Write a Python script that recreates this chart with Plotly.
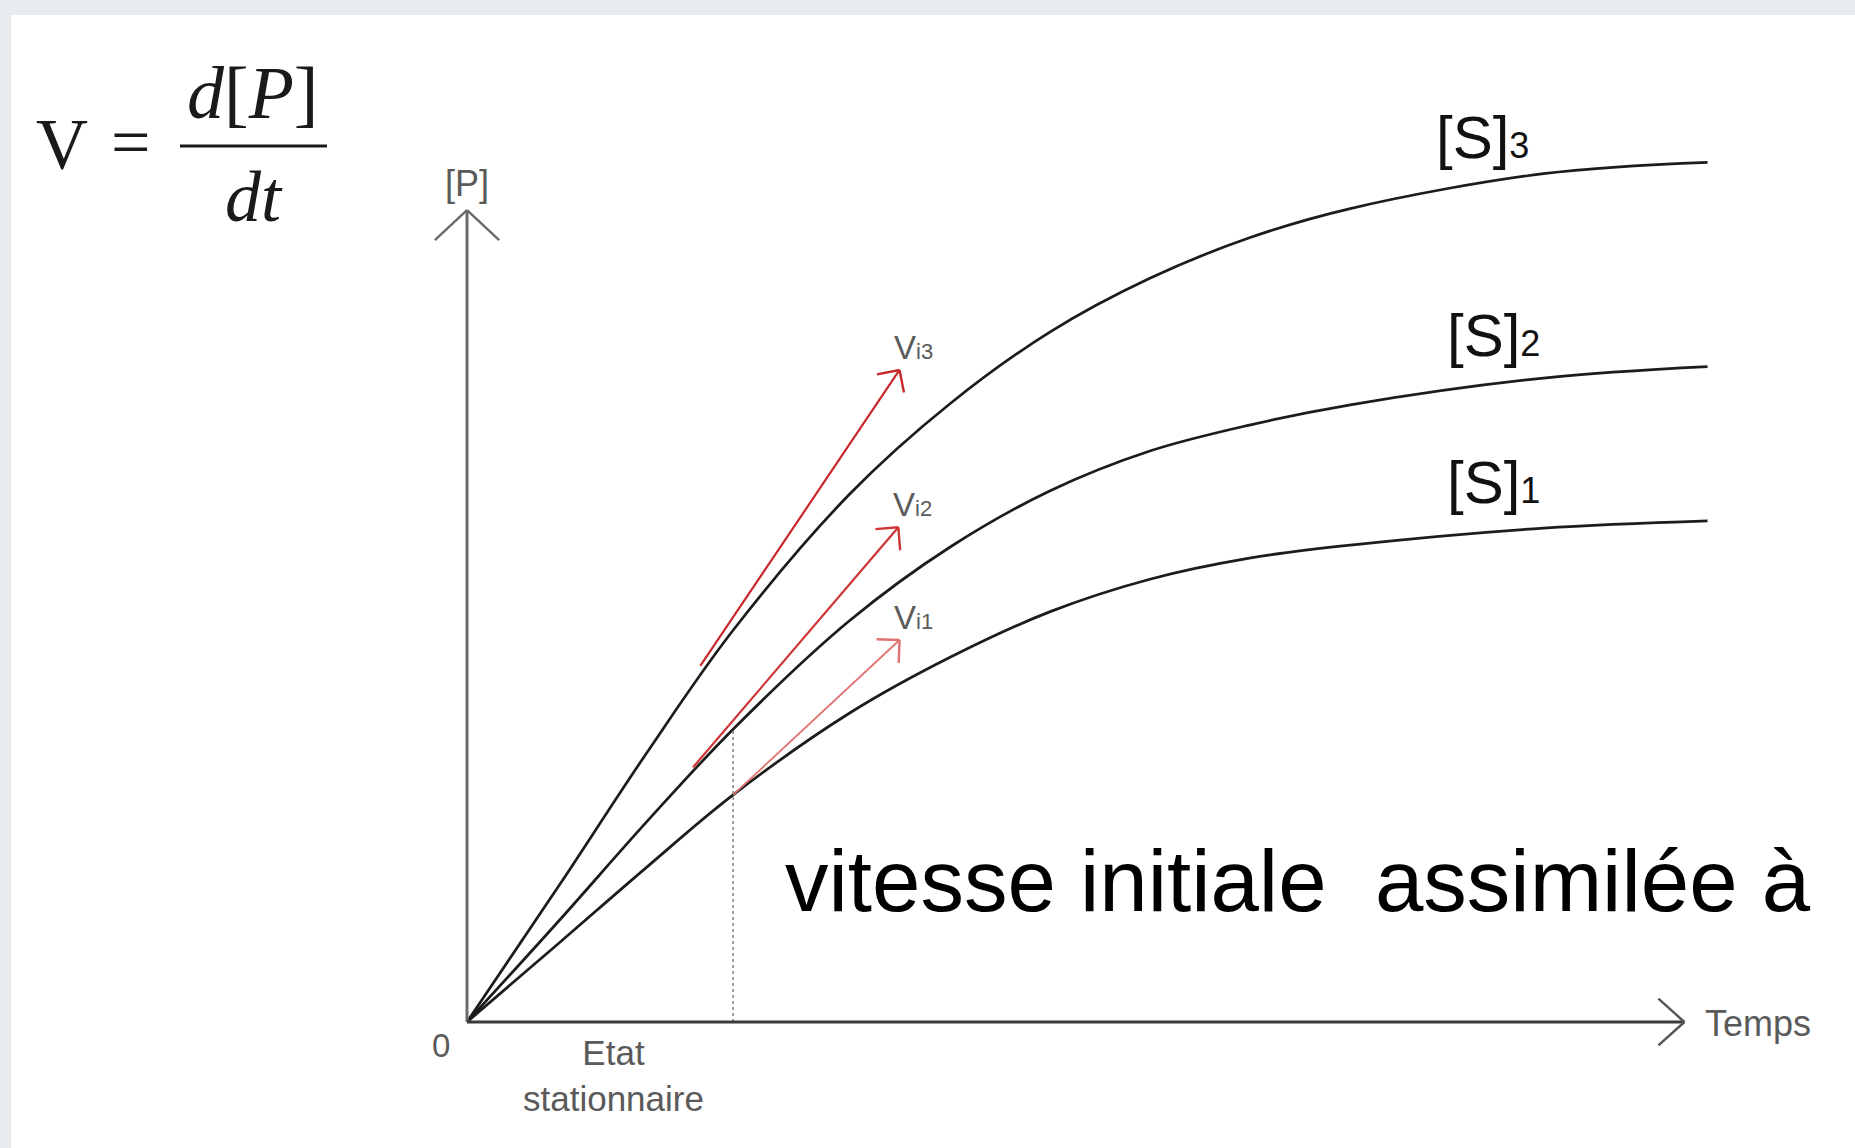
import math
import plotly.graph_objects as go

# Canvas and placement of the kinetic plot inside it
W, H = 1855, 1148
ORIGIN_PX = (467, 1022)      # pixel position of (t=0, [P]=0)
PX_PER_T = 121.5             # pixels per time unit
PX_PER_P = 81.1              # pixels per [P] unit

# Product formation curves, one per substrate concentration
temps = [0, 0.77, 1.48, 2.19, 3.15, 3.98, 4.80, 5.62, 6.44, 7.27, 8.86, 10.21]
p_s1 = [0, 0.99, 1.91, 2.80, 3.81, 4.50, 5.06, 5.46, 5.72, 5.88, 6.09, 6.18]
p_s2 = [0, 1.27, 2.47, 3.61, 4.95, 5.86, 6.55, 7.04, 7.36, 7.61, 7.94, 8.08]
p_s3 = [0, 1.71, 3.32, 4.83, 6.51, 7.63, 8.51, 9.17, 9.67, 10.03, 10.46, 10.60]
subscripts = ["1", "2", "3"]

# Initial-rate tangents Vi1, Vi2, Vi3 (tail -> head)
vi_tail_t = [2.19, 1.86, 1.92]
vi_tail_p = [2.80, 3.14, 4.39]
vi_head_t = [3.56, 3.55, 3.56]
vi_head_p = [4.71, 6.10, 8.04]
vi_colors = ["#e27272", "#cf3434", "#c9282c"]

# End of the drawn axes
T_AXIS_END = 10.02
P_AXIS_END = 10.01
STEADY_STATE_IDX = 3   # sample where the steady-state marker is drawn

x_range = [-ORIGIN_PX[0] / PX_PER_T, (W - ORIGIN_PX[0]) / PX_PER_T]
y_range = [-(H - ORIGIN_PX[1]) / PX_PER_P, ORIGIN_PX[1] / PX_PER_P]


def t_of(px):
    return (px - ORIGIN_PX[0]) / PX_PER_T


def p_of(py):
    return (ORIGIN_PX[1] - py) / PX_PER_P


def chevron(xt, yt, dx, dy, length, half_angle, color, width):
    """Open arrow head (two strokes) at (xt, yt) pointing along (dx, dy) in pixels."""
    n = math.hypot(dx, dy)
    bx, by = -dx / n, -dy / n
    out = []
    for sgn in (1, -1):
        a = math.radians(sgn * half_angle)
        wx = bx * math.cos(a) - by * math.sin(a)
        wy = bx * math.sin(a) + by * math.cos(a)
        out.append(dict(type="line", xref="x", yref="y",
                        xsizemode="pixel", ysizemode="pixel",
                        xanchor=xt, yanchor=yt,
                        x0=0, y0=0, x1=wx * length, y1=wy * length,
                        line=dict(color=color, width=width)))
    return out


fig = go.Figure()

# substrate curves
for p in (p_s1, p_s2, p_s3):
    fig.add_trace(go.Scatter(x=temps, y=p, mode="lines",
                             line=dict(color="#1c1c1c", width=2.7, shape="spline", smoothing=1.0),
                             hoverinfo="skip"))

# steady-state dotted marker
fig.add_trace(go.Scatter(x=[temps[STEADY_STATE_IDX]] * 2, y=[0, p_s2[STEADY_STATE_IDX]],
                         mode="lines", line=dict(color="#8a8a8a", width=1.6, dash="dot"),
                         hoverinfo="skip"))

shapes = []
# tangent arrows
for i in range(3):
    fig.add_trace(go.Scatter(x=[vi_tail_t[i], vi_head_t[i]], y=[vi_tail_p[i], vi_head_p[i]],
                             mode="lines", line=dict(color=vi_colors[i], width=2.2 if i else 1.8),
                             hoverinfo="skip"))
    dx = (vi_head_t[i] - vi_tail_t[i]) * PX_PER_T
    dy = (vi_head_p[i] - vi_tail_p[i]) * PX_PER_P
    shapes += chevron(vi_head_t[i], vi_head_p[i], dx, dy, 23, 45, vi_colors[i], 2.4)

# paper background with grid-paper margins
shapes.insert(0, dict(type="rect", xref="paper", yref="paper", x0=11 / W, x1=1,
                      y0=0, y1=1 - 15 / H, fillcolor="white", line=dict(width=0), layer="below"))

# axes with open arrow heads
shapes.append(dict(type="line", xref="x", yref="y", x0=0, y0=0, x1=0, y1=P_AXIS_END,
                   line=dict(color="#6a6a6a", width=3)))
shapes += chevron(0, P_AXIS_END, 0, 1, 44, 47, "#6a6a6a", 2.4)
shapes.append(dict(type="line", xref="x", yref="y", x0=0, y0=0, x1=T_AXIS_END, y1=0,
                   line=dict(color="#3a3a3a", width=3)))
shapes += chevron(T_AXIS_END, 0, 1, 0, 35, 42, "#555555", 2.4)

# fraction bar of the rate definition
shapes.append(dict(type="line", xref="x", yref="y", x0=t_of(180), x1=t_of(327),
                   y0=p_of(146), y1=p_of(146), line=dict(color="#1a1a1a", width=3)))

SANS = "Liberation Sans, Arial, sans-serif"
SERIF = "Liberation Serif, Times New Roman, serif"
GRAY = "#5a5a5a"

ann = []


def label(x, y, text, size, color, family=SANS, xanchor="center", yanchor="middle"):
    ann.append(dict(x=x, y=y, xref="x", yref="y", text=text, showarrow=False,
                    xanchor=xanchor, yanchor=yanchor,
                    font=dict(family=family, size=size, color=color)))


# axis texts
label(0, p_of(183), "[P]", 36, GRAY)
label(t_of(441), p_of(1045), "0", 33, GRAY)
label(t_of(613), p_of(1075), "Etat<br>stationnaire", 35, GRAY)
label(t_of(1703), p_of(1023), "Temps", 36, GRAY, xanchor="left")

# curve names
s_pos = [(1493, 482), (1493, 335), (1482, 137)]
for (px, py), sub in zip(s_pos, subscripts):
    label(t_of(px), p_of(py), "[S]<span style='font-size:36px'>" + sub + "</span>", 60, "#111111")

# tangent names
for i, sub in enumerate(subscripts):
    label(vi_head_t[i] - 0.06, vi_head_p[i] + 0.28,
          "V<span style='font-size:22px'>i" + sub + "</span>", 33, GRAY, xanchor="left")

# rate definition V = d[P]/dt
label(t_of(62), p_of(144), "V", 72, "#1a1a1a", family=SERIF)
label(t_of(130), p_of(142), "=", 70, "#1a1a1a", family=SERIF)
label(t_of(253), p_of(93), "<i>d</i>[<i>P</i>]", 74, "#1a1a1a", family=SERIF)
label(t_of(254), p_of(197), "<i>dt</i>", 72, "#1a1a1a", family=SERIF)

# caption
label(t_of(783), p_of(880), "vitesse initiale  assimilée à", 87, "#000000", xanchor="left")

fig.update_layout(
    width=W, height=H,
    margin=dict(l=0, r=0, t=0, b=0),
    paper_bgcolor="#e7ecf0",
    plot_bgcolor="rgba(0,0,0,0)",
    showlegend=False,
    hovermode=False,
    xaxis=dict(range=x_range, visible=False, domain=[0, 1], fixedrange=True),
    yaxis=dict(range=y_range, visible=False, domain=[0, 1], fixedrange=True),
    shapes=shapes,
    annotations=ann,
)

fig.write_html("out.html")
